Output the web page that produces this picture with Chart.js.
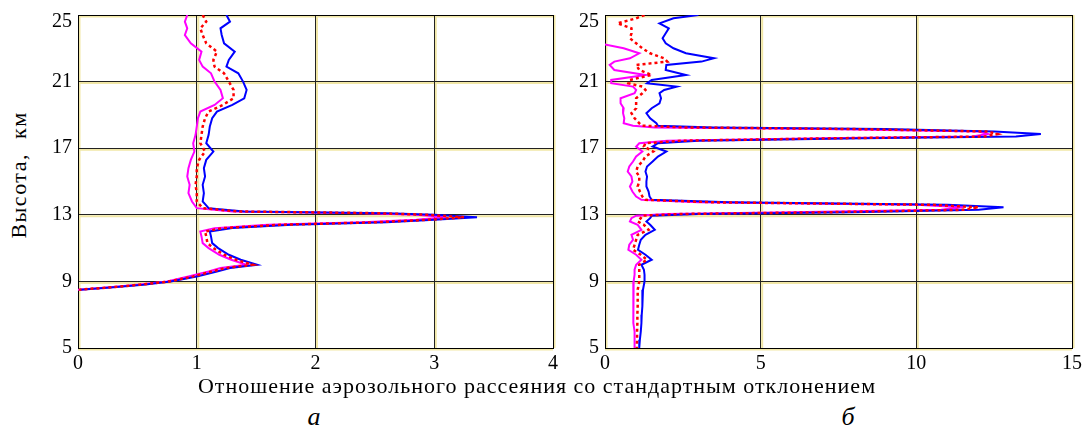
<!DOCTYPE html>
<html>
<head>
<meta charset="utf-8">
<title>Aerosol scattering ratio profiles</title>
<script src="https://cdn.jsdelivr.net/npm/chart.js"></script>
<style>
  html, body { margin: 0; padding: 0; background: #fff; overflow: hidden; }
  body { width: 1086px; height: 428px; position: relative; font-family: "Liberation Serif", "Times New Roman", Tinos, "DejaVu Serif", serif; color: #000; }
  .box { position: absolute; }
  .txt { position: absolute; white-space: nowrap; transform: translate(-50%, -50%); }
</style>
</head>
<body>
<div class="box" style="left:40px; top:0; width:530px; height:375px;"><canvas id="chartA"></canvas></div>
<div class="box" style="left:555px; top:0; width:531px; height:375px;"><canvas id="chartB"></canvas></div>
<div class="txt" style="left:19px; top:175px; font-size:22px; letter-spacing:1.5px; transform:translate(-50%,-50%) rotate(-90deg);">Высота,&nbsp; км</div>
<div class="txt" style="left:537px; top:386px; font-size:22px; letter-spacing:1px;">Отношение аэрозольного рассеяния со стандартным отклонением</div>
<div class="txt" style="left:314px; top:417px; font-size:26px; font-style:italic;">а</div>
<div class="txt" style="left:848px; top:417px; font-size:26px; font-style:italic;">б</div>
<script>
// tick values
const heightTicks = [5, 9, 13, 17, 21, 25];
const ratioTicksA = [0, 1, 2, 3, 4];
const ratioTicksB = [0, 5, 10, 15];

// panel a: altitude (km) and ratio for each profile
const altA = [25.0, 24.6, 24.2, 23.8, 23.3, 22.8, 22.3, 21.9, 21.5, 21.0,
              20.5, 20.0, 19.6, 19.2, 18.8, 18.3, 17.8, 17.3, 16.8, 16.3,
              15.8, 15.3, 14.8, 14.3, 13.8, 13.4, 13.2, 13.1, 13.0, 12.85,
              12.7, 12.55, 12.4, 12.2, 12.0, 11.7, 11.3, 11.0, 10.6, 10.3,
              10.0, 9.8, 9.6, 9.3, 9.0, 8.8, 8.65, 8.5];
const blueA = [1.25, 1.28, 1.20, 1.21, 1.23, 1.32, 1.27, 1.25, 1.35, 1.39,
               1.42, 1.40, 1.30, 1.17, 1.13, 1.11, 1.10, 1.08, 1.14, 1.08,
               1.06, 1.07, 1.05, 1.06, 1.05, 1.10, 1.4, 2.6, 3.0, 3.36,
               3.0, 2.6, 1.8, 1.3, 1.11, 1.12, 1.13, 1.18, 1.27, 1.37,
               1.51, 1.28, 1.17, 1.0, 0.78, 0.55, 0.30, 0.02];
const redA = [1.05, 1.08, 1.03, 1.05, 1.08, 1.17, 1.14, 1.15, 1.23, 1.27,
              1.31, 1.31, 1.22, 1.10, 1.07, 1.05, 1.04, 1.03, 1.07, 1.02,
              1.00, 1.00, 0.99, 1.00, 1.00, 1.05, 1.35, 2.5, 2.95, 3.25,
              2.95, 2.5, 1.7, 1.22, 1.07, 1.08, 1.09, 1.14, 1.23, 1.33,
              1.47, 1.24, 1.13, 0.97, 0.77, 0.52, 0.28, 0.01];
const magentaA = [0.92, 0.90, 0.92, 0.90, 0.95, 1.04, 1.02, 1.05, 1.12, 1.15,
                  1.20, 1.22, 1.15, 1.03, 1.01, 1.00, 0.99, 0.97, 0.98, 0.95,
                  0.93, 0.92, 0.94, 0.93, 0.96, 1.0, 1.3, 2.4, 2.85, 3.1,
                  2.85, 2.4, 1.6, 1.15, 1.03, 1.04, 1.05, 1.10, 1.19, 1.29,
                  1.42, 1.2, 1.1, 0.93, 0.75, 0.5, 0.27, 0.0];

// panel b
const altB = [25.0, 24.8, 24.5, 24.2, 23.9, 23.6, 23.3, 23.0, 22.7, 22.4,
              22.2, 22.0, 21.7, 21.4, 21.1, 20.9, 20.7, 20.5, 20.3, 20.0,
              19.7, 19.4, 19.1, 18.8, 18.5, 18.35, 18.25, 18.15, 18.0, 17.85,
              17.7, 17.6, 17.45, 17.3, 17.1, 16.8, 16.5, 16.2, 15.9, 15.6,
              15.3, 15.0, 14.7, 14.4, 14.1, 13.9, 13.75, 13.6, 13.45, 13.3,
              13.15, 13.05, 12.95, 12.8, 12.6, 12.4, 12.1, 11.8, 11.5, 11.2,
              10.9, 10.6, 10.3, 10.0, 9.7, 9.4, 9.0, 8.5, 8.0, 7.5,
              7.0, 6.5, 6.0, 5.5, 5.0];
const blueB = [3.0, 2.2, 1.75, 2.05, 1.95, 1.85, 1.95, 2.2, 2.6, 3.5,
               3.1, 1.97, 1.95, 2.6, 1.5, 1.35, 2.3, 1.9, 1.75, 1.8,
               1.75, 1.5, 1.33, 1.45, 1.65, 1.7, 3.5, 9.0, 12.5, 14.0,
               13.2, 8.3, 3.0, 1.7, 1.53, 1.97, 1.7, 1.53, 1.35, 1.3,
               1.35, 1.33, 1.33, 1.4, 1.43, 1.5, 4.0, 11.0, 12.8, 12.0,
               8.0, 3.0, 1.5, 1.45, 1.33, 1.45, 1.6, 1.3, 1.15, 1.1,
               1.06, 1.3, 1.5, 1.17, 1.25, 1.27, 1.27, 1.22, 1.2, 1.2,
               1.18, 1.17, 1.15, 1.12, 1.1];
const redB = [1.27, 1.0, 0.4, 0.85, 0.85, 0.8, 1.0, 1.2, 1.45, 1.9,
              2.0, 1.0, 1.1, 1.5, 0.8, 0.75, 1.2, 1.3, 1.2, 1.0,
              1.0, 1.0, 0.85, 0.95, 1.1, 1.2, 2.5, 8.0, 12.3, 12.6,
              12.2, 7.5, 2.5, 1.3, 1.25, 1.55, 1.3, 1.2, 1.05, 1.0,
              1.1, 1.1, 1.05, 1.12, 1.2, 1.3, 3.5, 10.5, 12.0, 11.5,
              7.0, 2.5, 1.2, 1.15, 1.05, 1.25, 1.4, 1.05, 1.0, 0.95,
              0.9, 1.15, 1.35, 1.1, 1.1, 1.1, 1.1, 1.05, 1.05, 1.05,
              1.04, 1.04, 1.03, 1.03, 1.02];
const magentaB = [-0.3, -0.3, -0.3, -0.3, -0.3, -0.3, -0.2, 0.6, 1.1, 0.8,
                  0.3, 0.15, 0.3, 1.3, 0.2, 0.2, 0.9, 1.0, 0.95, 0.5,
                  0.5, 0.6, 0.58, 0.62, 0.6, 0.9, 1.6, 7.0, 12.0, 12.3,
                  11.8, 7.0, 2.0, 1.1, 1.0, 1.2, 1.0, 0.9, 0.78, 0.73,
                  0.85, 0.88, 0.8, 0.88, 1.0, 1.17, 3.0, 10.0, 11.5, 10.8,
                  6.0, 2.0, 1.0, 0.85, 0.8, 1.05, 1.17, 0.85, 0.9, 0.78,
                  0.75, 1.0, 1.17, 1.0, 0.95, 0.95, 0.92, 0.9, 0.9, 0.9,
                  0.92, 0.93, 0.95, 0.95, 0.95];

const fontStack = '"Liberation Serif", "Times New Roman", Tinos, "DejaVu Serif", serif';

// yellowish halo under the grid lines + frame around the plot
const gridHalo = {
    id: 'gridHalo',
    beforeDraw(chart) {
        const { ctx, chartArea: a, scales } = chart;
        ctx.save();
        ctx.strokeStyle = '#f1e7a6';
        ctx.lineWidth = 2;
        scales.x.ticks.forEach(t => {
            const px = scales.x.getPixelForValue(t.value) + 1.5;
            ctx.beginPath(); ctx.moveTo(px, a.top); ctx.lineTo(px, a.bottom); ctx.stroke();
        });
        scales.y.ticks.forEach(t => {
            const py = scales.y.getPixelForValue(t.value) + 1.5;
            ctx.beginPath(); ctx.moveTo(a.left, py); ctx.lineTo(a.right, py); ctx.stroke();
        });
        ctx.restore();
    },
    beforeDatasetsDraw(chart) {
        const { ctx, chartArea: a } = chart;
        ctx.save();
        ctx.strokeStyle = '#000';
        ctx.lineWidth = 1;
        ctx.strokeRect(a.left + 0.5, a.top + 0.5, a.right - a.left, a.bottom - a.top);
        ctx.restore();
    }
};

function profile(alt, vals, color, dashed) {
    return {
        data: alt.map((h, i) => ({ x: vals[i], y: h })),
        showLine: true,
        borderColor: color,
        backgroundColor: color,
        borderWidth: dashed ? 2.5 : 2,
        borderDash: dashed ? [3, 3] : [],
        pointRadius: 0,
        tension: 0
    };
}

function makeChart(id, alt, blue, red, magenta, xTicks, yWidth, padRight) {
    const topTick = heightTicks[heightTicks.length - 1];
    new Chart(document.getElementById(id), {
        type: 'scatter',
        data: {
            datasets: [
                profile(alt, red, '#ff0000', true),
                profile(alt, blue, '#0000ff', false),
                profile(alt, magenta, '#ff00ff', false)
            ]
        },
        options: {
            responsive: true,
            maintainAspectRatio: false,
            animation: false,
            layout: { padding: { top: 15, right: padRight, bottom: 0, left: 0 } },
            plugins: { legend: { display: false }, tooltip: { enabled: false } },
            scales: {
                x: {
                    type: 'linear',
                    min: xTicks[0],
                    max: xTicks[xTicks.length - 1],
                    afterBuildTicks: s => { s.ticks = xTicks.map(v => ({ value: v })); },
                    afterFit: s => { s.height = 27; },
                    grid: { color: '#222', lineWidth: 1, drawTicks: false },
                    border: { color: '#000', width: 1 },
                    ticks: { color: '#000', font: { family: fontStack, size: 20 }, padding: 4, maxRotation: 0 }
                },
                y: {
                    type: 'linear',
                    min: heightTicks[0],
                    max: topTick,
                    afterBuildTicks: s => { s.ticks = heightTicks.map(v => ({ value: v })); },
                    afterFit: s => { s.width = yWidth; s.paddingTop = 0; s.paddingBottom = 0; },
                    grid: { color: '#222', lineWidth: 1, drawTicks: false },
                    border: { color: '#000', width: 1 },
                    ticks: {
                        color: '#000',
                        font: { family: fontStack, size: 20, lineHeight: 0.7 },
                        padding: 6,
                        // the top label sits a little below the frame in the original
                        callback: v => v === topTick ? ['', String(v)] : String(v)
                    }
                }
            }
        },
        plugins: [gridHalo]
    });
}

makeChart('chartA', altA, blueA, redA, magentaA, ratioTicksA, 38, 17);
makeChart('chartB', altB, blueB, redB, magentaB, ratioTicksB, 50, 10);
</script>
</body>
</html>
